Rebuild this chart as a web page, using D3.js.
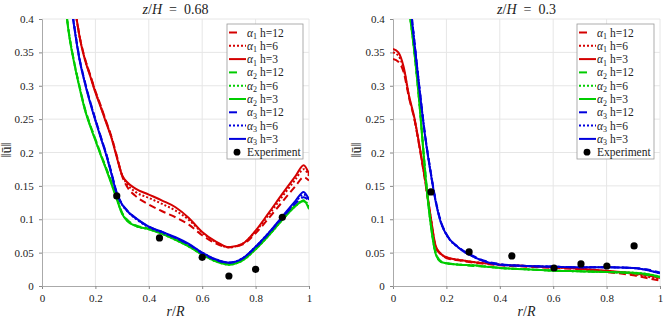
<!DOCTYPE html>
<html><head><meta charset="utf-8">
<script src="https://cdn.jsdelivr.net/npm/d3@7"></script>
<style>
body{margin:0;background:#fff}
svg{display:block}
text{font-family:"Liberation Serif","Times New Roman",serif;fill:#222}
</style>
</head><body>
<svg id="c" width="664" height="321"></svg>
<script>
// ---------- DATA ----------
const legendLabels = [
  ["1","h=12"],["1","h=6"],["1","h=3"],
  ["2","h=12"],["2","h=6"],["2","h=3"],
  ["3","h=12"],["3","h=6"],["3","h=3"]
];
const xTicks = [0,0.2,0.4,0.6,0.8,1];
const yTicks = [0,0.05,0.1,0.15,0.2,0.25,0.3,0.35,0.4];

// Left panel z/H = 0.68
const rLeft = [0.08,0.10,0.12,0.14,0.16,0.18,0.20,0.22,0.24,0.26,0.28,0.30,0.32,0.35,0.40,0.45,0.50,0.55,0.60,0.65,0.70,0.75,0.80,0.85,0.90,0.95,0.98,1.00];
const leftA1h12 = [0.62,0.52,0.43,0.376,0.342,0.317,0.292,0.27,0.247,0.224,0.195,0.165,0.148,0.135,0.122,0.112,0.103,0.092,0.076,0.064,0.058,0.062,0.079,0.102,0.126,0.150,0.163,0.158];
const leftA1h6  = [0.62,0.52,0.43,0.375,0.341,0.316,0.291,0.269,0.246,0.223,0.194,0.166,0.152,0.141,0.132,0.123,0.113,0.099,0.080,0.066,0.058,0.063,0.082,0.107,0.134,0.160,0.175,0.165];
const leftA1h3  = [0.62,0.52,0.43,0.375,0.340,0.315,0.290,0.268,0.245,0.222,0.193,0.166,0.155,0.146,0.137,0.128,0.118,0.102,0.081,0.067,0.058,0.063,0.083,0.110,0.138,0.165,0.181,0.168];
const leftA2h12 = [0.45,0.382,0.337,0.300,0.267,0.242,0.220,0.198,0.177,0.156,0.133,0.110,0.099,0.091,0.086,0.079,0.070,0.060,0.048,0.038,0.033,0.039,0.056,0.077,0.100,0.121,0.127,0.118];
const leftA2h6  = [0.45,0.381,0.336,0.299,0.266,0.241,0.219,0.197,0.176,0.154,0.131,0.109,0.098,0.090,0.085,0.078,0.069,0.059,0.047,0.037,0.032,0.038,0.055,0.076,0.099,0.120,0.128,0.120];
const leftA2h3  = [0.45,0.380,0.335,0.298,0.265,0.240,0.218,0.196,0.175,0.153,0.130,0.108,0.097,0.090,0.085,0.078,0.069,0.059,0.047,0.037,0.032,0.038,0.055,0.076,0.099,0.120,0.128,0.115];
const leftA3h12 = [0.52,0.45,0.392,0.342,0.307,0.277,0.250,0.224,0.199,0.170,0.140,0.123,0.113,0.102,0.089,0.081,0.072,0.062,0.049,0.039,0.035,0.041,0.058,0.079,0.102,0.124,0.133,0.128];
const leftA3h6  = [0.52,0.45,0.391,0.341,0.306,0.276,0.249,0.223,0.198,0.169,0.139,0.122,0.112,0.101,0.088,0.080,0.072,0.062,0.050,0.040,0.035,0.041,0.059,0.080,0.103,0.126,0.137,0.130];
const leftA3h3  = [0.52,0.45,0.390,0.340,0.305,0.275,0.248,0.222,0.197,0.168,0.138,0.122,0.112,0.102,0.089,0.081,0.073,0.063,0.050,0.040,0.035,0.041,0.059,0.080,0.104,0.128,0.141,0.129];
const expLeftR = [0.28,0.44,0.60,0.70,0.80,0.90];
const expLeftV = [0.135,0.072,0.043,0.015,0.025,0.103];

// Right panel z/H = 0.3
const rRight = [0,0.02,0.04,0.06,0.08,0.10,0.12,0.14,0.16,0.18,0.20,0.25,0.30,0.35,0.40,0.50,0.60,0.70,0.80,0.90,0.95,1.00];
const rightA1h12 = [0.340,0.336,0.320,0.282,0.250,0.206,0.158,0.105,0.058,0.047,0.042,0.038,0.035,0.033,0.031,0.029,0.027,0.025,0.021,0.016,0.012,0.008];
const rightA1h6  = [0.350,0.345,0.325,0.284,0.251,0.207,0.159,0.106,0.059,0.048,0.043,0.039,0.036,0.034,0.032,0.030,0.028,0.026,0.022,0.018,0.014,0.010];
const rightA1h3  = [0.355,0.350,0.328,0.285,0.252,0.208,0.160,0.107,0.060,0.048,0.043,0.039,0.036,0.034,0.032,0.030,0.028,0.026,0.023,0.019,0.016,0.012];
const rightA2h12 = [0.60,0.55,0.48,0.418,0.352,0.270,0.175,0.098,0.050,0.037,0.034,0.032,0.030,0.029,0.027,0.025,0.023,0.022,0.021,0.019,0.017,0.013];
const rightA2h6  = [0.60,0.55,0.48,0.416,0.351,0.269,0.173,0.097,0.049,0.036,0.034,0.032,0.031,0.029,0.027,0.025,0.023,0.022,0.021,0.020,0.018,0.014];
const rightA2h3  = [0.60,0.55,0.48,0.415,0.350,0.268,0.172,0.096,0.048,0.036,0.034,0.032,0.031,0.029,0.027,0.025,0.023,0.022,0.021,0.020,0.018,0.014];
const rightA3h12 = [0.65,0.58,0.51,0.442,0.367,0.294,0.227,0.174,0.128,0.096,0.078,0.057,0.045,0.037,0.033,0.030,0.029,0.028,0.028,0.027,0.025,0.020];
const rightA3h6  = [0.65,0.58,0.51,0.441,0.366,0.293,0.226,0.173,0.127,0.095,0.077,0.056,0.044,0.036,0.032,0.030,0.029,0.028,0.028,0.027,0.024,0.019];
const rightA3h3  = [0.65,0.58,0.51,0.440,0.365,0.292,0.225,0.172,0.126,0.094,0.077,0.056,0.044,0.036,0.032,0.030,0.029,0.028,0.028,0.027,0.024,0.019];
const expRightR = [0.142,0.285,0.445,0.603,0.704,0.801,0.903];
const expRightV = [0.141,0.051,0.045,0.027,0.033,0.030,0.060];

// ---------- STYLE ----------
const colA = ["#d40000","#00cc00","#0000dd"];
const dashH = ["7,4","2,2",null];
const legendDash = ["8,12","2,2",null];
const FONT = "'Liberation Serif','Times New Roman',serif";

const svg = d3.select("#c");

function panel(cfg){
  const x = d3.scaleLinear().domain([0,1]).range([cfg.x0,cfg.x1]);
  const y = d3.scaleLinear().domain([0,0.4]).range([286,19]);
  const g = svg.append("g");
  const clipId = "clip"+cfg.id;
  svg.append("defs").append("clipPath").attr("id",clipId)
    .append("rect").attr("x",cfg.x0).attr("y",19).attr("width",cfg.x1-cfg.x0).attr("height",267);

  // grid
  g.selectAll(".hg").data(yTicks.filter(d=>d>0)).enter().append("line")
    .attr("x1",cfg.x0).attr("x2",cfg.x1).attr("y1",d=>y(d)).attr("y2",d=>y(d))
    .attr("stroke","#e6e6e6").attr("stroke-width",1);
  g.selectAll(".vg").data(xTicks.filter(d=>d>0)).enter().append("line")
    .attr("x1",d=>x(d)).attr("x2",d=>x(d)).attr("y1",19).attr("y2",286)
    .attr("stroke","#e6e6e6").attr("stroke-width",1);

  // axes
  const ax = d3.axisBottom(x).tickValues(xTicks).tickSize(3).tickFormat(d3.format("~g"));
  const ay = d3.axisLeft(y).tickValues(yTicks).tickSize(3).tickFormat(d3.format("~g"));
  const gx = g.append("g").attr("transform","translate(0,286)").call(ax);
  const gy = g.append("g").attr("transform",`translate(${cfg.x0},0)`).call(ay);
  [gx,gy].forEach(a=>{
    a.attr("font-family",FONT);
    a.select(".domain").attr("stroke","#aaa");
    a.selectAll(".tick line").attr("stroke","#888");
    a.selectAll(".tick text").attr("font-family",FONT).attr("font-size","11px").attr("fill","#333");
  });
  gx.selectAll(".tick text").attr("dy","0.95em");
  gy.selectAll(".tick text").attr("dx","-0.2em");

  // curves
  const line = d3.line().x((d,i)=>x(cfg.r[i])).y(d=>y(d)).curve(d3.curveMonotoneX);
  const cg = g.append("g").attr("clip-path",`url(#${clipId})`);
  cfg.series.forEach((s,k)=>{
    const p = cg.append("path").attr("d",line(s)).attr("fill","none")
      .attr("stroke",colA[Math.floor(k/3)]).attr("stroke-width",2)
      .attr("stroke-linejoin","round");
    if(dashH[k%3]) p.attr("stroke-dasharray",dashH[k%3]);
  });
  // experiment
  g.selectAll(".ex").data(cfg.expR).enter().append("circle")
    .attr("cx",d=>x(d)).attr("cy",(d,i)=>y(cfg.expV[i])).attr("r",3.6).attr("fill","#000");

  // title
  const t = g.append("text").attr("x",(cfg.x0+cfg.x1)/2).attr("y",14).attr("text-anchor","middle")
    .attr("font-family",FONT).attr("font-size","14px");
  t.append("tspan").attr("font-style","italic").text("z");
  t.append("tspan").text("/");
  t.append("tspan").attr("font-style","italic").text("H");
  t.append("tspan").text("\u2002=\u2002"+cfg.title);
  // x label
  const xl = g.append("text").attr("x",(cfg.x0+cfg.x1)/2).attr("y",316).attr("text-anchor","middle")
    .attr("font-family",FONT).attr("font-size","14px");
  xl.append("tspan").attr("font-style","italic").text("r");
  xl.append("tspan").text("/");
  xl.append("tspan").attr("font-style","italic").text("R");
  // y label
  g.append("text").attr("transform",`translate(${cfg.yl},150) rotate(-90)`).attr("text-anchor","middle")
    .attr("font-family",FONT).attr("font-size","14px").text("\u2016\u016B\u2016");

  // legend
  const lx = cfg.lx, ly = 24;
  const lg = g.append("g");
  lg.append("rect").attr("x",lx).attr("y",ly).attr("width",cfg.lw).attr("height",135)
    .attr("fill","#fff").attr("stroke","#999").attr("stroke-width",0.8);
  legendLabels.forEach((lab,k)=>{
    const yy = 32.5 + k*13.3;
    const l = lg.append("line").attr("x1",lx+2).attr("x2",lx+19).attr("y1",yy).attr("y2",yy)
      .attr("stroke",colA[Math.floor(k/3)]).attr("stroke-width",2);
    if(legendDash[k%3]) l.attr("stroke-dasharray",legendDash[k%3]);
    const tx = lg.append("text").attr("x",lx+20).attr("y",yy+4).attr("font-family",FONT).attr("font-size","11.5px");
    tx.append("tspan").attr("font-style","italic").text("\u03B1");
    tx.append("tspan").attr("font-size","8px").attr("dy",2.5).text(lab[0]);
    tx.append("tspan").attr("dy",-2.5).text(" "+lab[1]);
  });
  const ey = 32.5 + 9*13.3;
  lg.append("circle").attr("cx",lx+10).attr("cy",ey).attr("r",3.4).attr("fill","#000");
  lg.append("text").attr("x",lx+20).attr("y",ey+4).attr("font-family",FONT).attr("font-size","11.5px").text("Experiment");
}

panel({id:"L", x0:42, x1:309, r:rLeft, title:"0.68", lx:227, lw:76, yl:11,
  series:[leftA1h12,leftA1h6,leftA1h3,leftA2h12,leftA2h6,leftA2h3,leftA3h12,leftA3h6,leftA3h3],
  expR:expLeftR, expV:expLeftV});
panel({id:"R", x0:393, x1:660, r:rRight, title:"0.3", lx:577, lw:77, yl:361,
  series:[rightA1h12,rightA1h6,rightA1h3,rightA2h12,rightA2h6,rightA2h3,rightA3h12,rightA3h6,rightA3h3],
  expR:expRightR, expV:expRightV});
</script>
</body></html>
